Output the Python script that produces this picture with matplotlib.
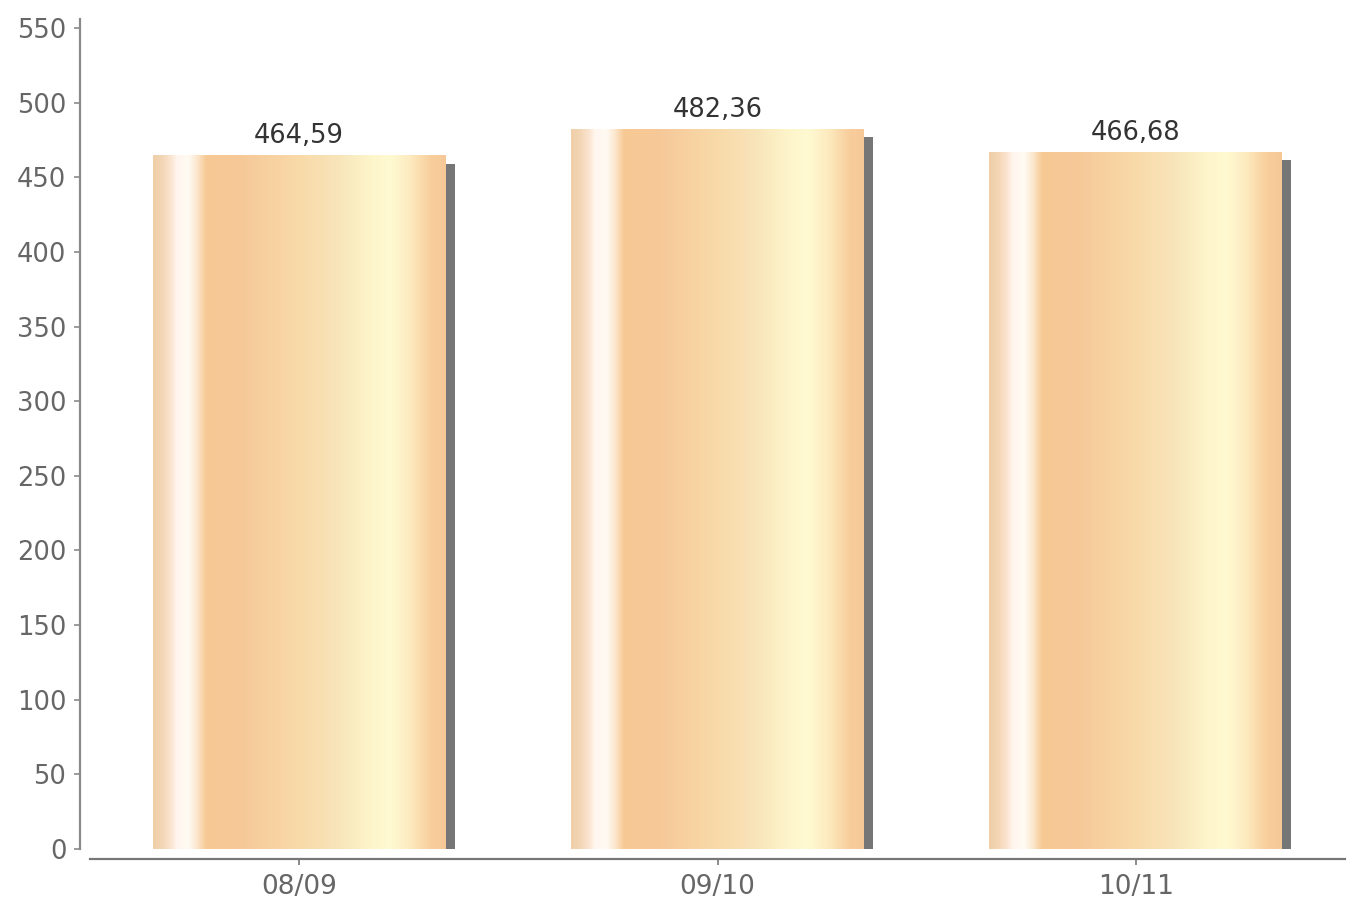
import numpy as np
import matplotlib
matplotlib.use("Agg")
import matplotlib.pyplot as plt
from matplotlib.colors import LinearSegmentedColormap

categories = ["08/09", "09/10", "10/11"]
values = [464.59, 482.36, 466.68]
value_labels = ["464,59", "482,36", "466,68"]
yticks = list(range(0, 551, 50))

# horizontal gradient of the bars
grad_stops = [
    (0.00, "#efcfa8"),
    (0.03, "#f4d6b6"),
    (0.06, "#fbe4d0"),
    (0.08, "#fff6ee"),
    (0.12, "#fffbf3"),
    (0.15, "#fce6cc"),
    (0.18, "#f7c994"),
    (0.30, "#f6c898"),
    (0.50, "#f9daa9"),
    (0.62, "#f8e3b8"),
    (0.74, "#fdf4ca"),
    (0.81, "#fffad2"),
    (0.88, "#fdeabf"),
    (0.95, "#f8ce9c"),
    (1.00, "#f6c898"),
]
cmap = LinearSegmentedColormap.from_list("barg", grad_stops)

W, H, DPI = 1353, 906, 100
fig = plt.figure(figsize=(W / DPI, H / DPI), dpi=DPI)
ax = fig.add_axes([90 / W, (H - 849) / H, (1345 - 90) / W, (849 - 19) / H])

x = np.arange(len(categories))
bw = 0.70
sh_dx = 0.022
sh_dy = 5.4

ax.set_xlim(-0.5, 2.5)
ax.set_ylim(0, 556)

# shadows
ax.bar(x + sh_dx, [v - sh_dy for v in values], width=bw, color="#767676",
       zorder=1, linewidth=0)

bars = ax.bar(x, values, width=bw, color="none", linewidth=0, zorder=2)
grad = np.linspace(0, 1, 512).reshape(1, -1)
for b in bars:
    x0, y0 = b.get_x(), b.get_y()
    w, h = b.get_width(), b.get_height()
    im = ax.imshow(grad, cmap=cmap, aspect="auto", extent=(x0, x0 + w, y0, y0 + h),
                   zorder=2, interpolation="bicubic")
    im.set_clip_path(b)

for xi, v, lab in zip(x, values, value_labels):
    ax.annotate(lab, (xi, v), xytext=(0, 4.5), textcoords="offset points",
                ha="center", va="bottom", fontsize=18.5, color="#333333")

ax.set_xticks(x)
ax.set_xticklabels(categories)
ax.set_yticks(yticks)

for s in ["top", "right"]:
    ax.spines[s].set_visible(False)
ax.spines["left"].set_position(("outward", 7))
ax.spines["bottom"].set_position(("outward", 7))
ax.spines["left"].set_color("#8a8a8a")
ax.spines["bottom"].set_color("#777777")
ax.spines["left"].set_linewidth(1.6)
ax.spines["bottom"].set_linewidth(1.6)

ax.tick_params(axis="y", direction="out", length=4, width=1.2, color="#8a8a8a",
               labelcolor="#666666", labelsize=18.5, pad=6)
ax.tick_params(axis="x", direction="out", length=4, width=1.2, color="#777777",
               labelcolor="#666666", labelsize=19, pad=7)

fig.savefig("out.png", dpi=DPI)
